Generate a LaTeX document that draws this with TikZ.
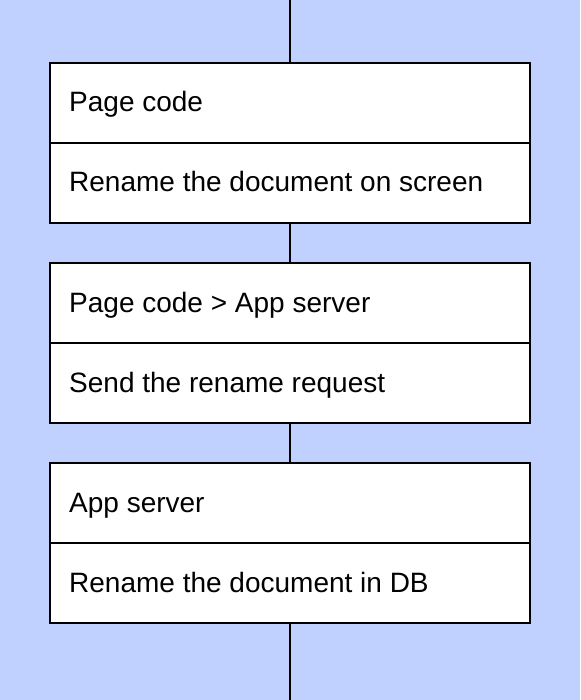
\documentclass[tikz,border=0pt]{standalone}
\usepackage{fontspec}
\setmainfont{Liberation Sans}
\definecolor{bgblue}{RGB}{192,208,255}
\begin{document}
\begin{tikzpicture}[x=1pt,y=-1pt,
  cell/.style={draw=black,line width=2pt,fill=white,minimum width=480pt,minimum height=80pt,inner sep=0pt,outer sep=0pt,anchor=north west},
  lbl/.style={anchor=base west,inner sep=0pt,font=\fontsize{28}{34}\selectfont},
  conn/.style={draw=black,line width=2pt}]
\fill[bgblue] (0,0) rectangle (580,700);
\useasboundingbox (0,0) rectangle (580,700);
\coordinate (top) at (290,0);
\coordinate (bot) at (290,700);
% box 1
\node[cell] (h1) at (50,63) {};
\node[cell] (b1) at (50,143) {};
\node[lbl] (t1) at (69,112) {Page code};
\node[lbl] (s1) at (69,192) {Rename the document on screen};
% box 2
\node[cell] (h2) at (50,263) {};
\node[cell] (b2) at (50,343) {};
\node[lbl] (t2) at (69,312) {Page code > App server};
\node[lbl] (s2) at (69,392) {Send the rename request};
% box 3
\node[cell] (h3) at (50,463) {};
\node[cell] (b3) at (50,543) {};
\node[lbl] (t3) at (69,512) {App server};
\node[lbl] (s3) at (69,592) {Rename the document in DB};
% connectors
\draw[conn] (top) -- (h1.north);
\draw[conn] (b1.south) -- (h2.north);
\draw[conn] (b2.south) -- (h3.north);
\draw[conn] (b3.south) -- (bot);
\end{tikzpicture}
\end{document}
